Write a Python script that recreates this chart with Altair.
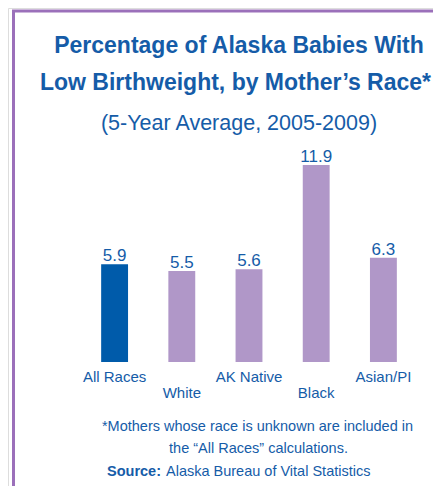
import altair as alt
import pandas as pd

races = ["All Races", "White", "AK Native", "Black", "Asian/PI"]
values = [5.9, 5.5, 5.6, 11.9, 6.3]
label_row = [0, 1, 0, 1, 0]
bar_colors = ["#005BAA", "#B097C8", "#B097C8", "#B097C8", "#B097C8"]

title_lines = ["Percentage of Alaska Babies With", "Low Birthweight, by Mother\u2019s Race*"]
subtitle = "(5-Year Average, 2005-2009)"
foot_lines = ["*Mothers whose race is unknown are included in",
              "the  \u201cAll  Races\u201d calculations."]
source_bold = "Source:"
source_text = "Alaska Bureau of Vital Statistics"

FONT = "Liberation Sans"
BLUE = "#155CA8"
BORDER = "#9B70BA"

df = pd.DataFrame({"race": races, "value": values, "row": label_row, "color": bar_colors})

W, H = 425, 478
x_scale = alt.Scale(domain=races, range=[73, 409], paddingInner=0.6, paddingOuter=0.3)
y_scale = alt.Scale(domain=[0, 12], range=[354, 155.4])

base = alt.Chart(df)

bars = base.mark_bar().encode(
    x=alt.X("race:N", scale=x_scale, axis=None, sort=races),
    y=alt.Y("value:Q", scale=y_scale, axis=None),
    color=alt.Color("color:N", scale=None),
)

vals = base.mark_text(baseline="alphabetic", dy=-3, font=FONT, fontSize=17, color=BLUE).encode(
    x=alt.X("race:N", scale=x_scale, axis=None, sort=races),
    y=alt.Y("value:Q", scale=y_scale, axis=None),
    text=alt.Text("value:Q", format=".1f"),
)

cats = base.transform_calculate(ypos="datum.row == 1 ? 390 : 374").mark_text(
    baseline="alphabetic", font=FONT, fontSize=15, color=BLUE
).encode(
    x=alt.X("race:N", scale=x_scale, axis=None, sort=races),
    y=alt.Y("ypos:Q", scale=None),
    text="race:N",
)

def txt(s, x, y, size, weight="normal", align="center"):
    return alt.Chart(pd.DataFrame({"t": [s]})).mark_text(
        font=FONT, fontSize=size, fontWeight=weight, color=BLUE, align=align, baseline="alphabetic"
    ).encode(x=alt.value(x), y=alt.value(y), text="t:N")

texts = [
    txt(title_lines[0], 231, 45, 23, "bold"),
    txt(title_lines[1], 227.5, 82, 23, "bold"),
    txt(subtitle, 231, 122, 21.5),
    txt(foot_lines[0], 249.5, 423, 14.5),
    txt(foot_lines[1], 250.5, 445, 14.5),
    txt(source_bold, 99, 468, 14.5, "bold", "left"),
    txt(source_text, 158, 468, 14.5, "normal", "left"),
]

left_border = alt.Chart(pd.DataFrame({"a": [0]})).mark_rule(color=BORDER, strokeWidth=3).encode(
    x=alt.value(5.5), y=alt.value(2), y2=alt.value(H)
)
top_border = alt.Chart(pd.DataFrame({"a": [0]})).mark_rule(color=BORDER, strokeWidth=3).encode(
    x=alt.value(4), x2=alt.value(W), y=alt.value(3)
)

chart = alt.layer(left_border, top_border, bars, vals, cats, *texts).properties(
    width=W, height=H, padding=0, autosize=alt.AutoSizeParams(type="none")
).configure_view(stroke=None).configure(background="white")

chart.save("out.html", embed_options={"renderer": "svg", "actions": False})
